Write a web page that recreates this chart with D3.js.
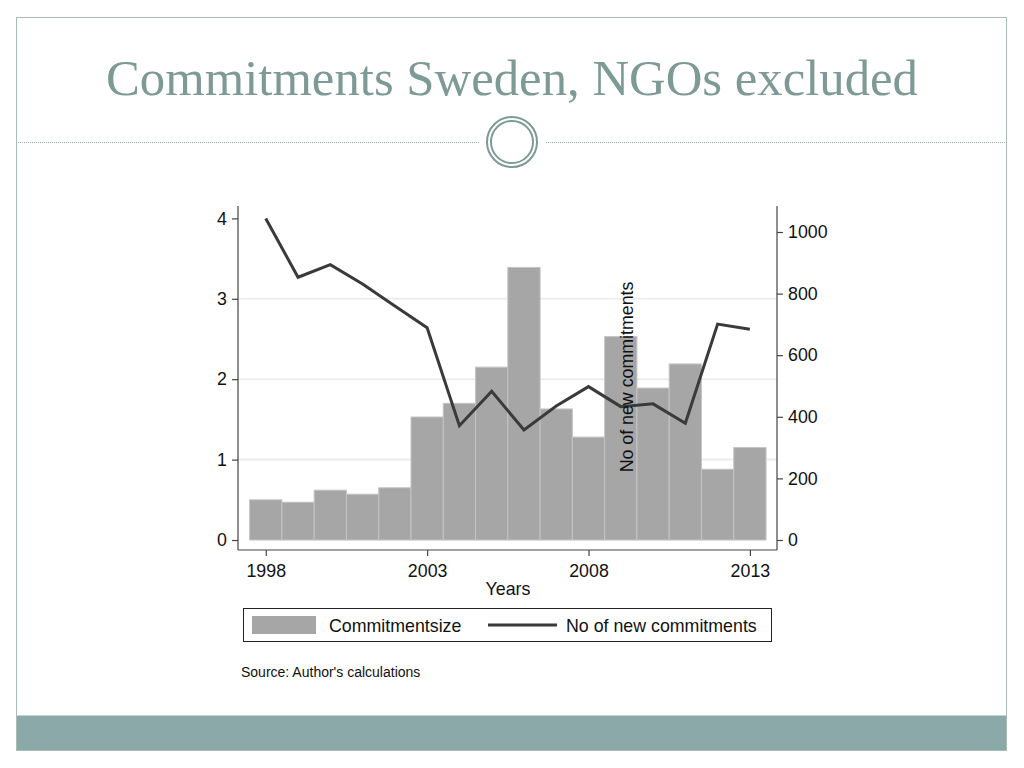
<!DOCTYPE html>
<html><head><meta charset="utf-8">
<script src="https://cdn.jsdelivr.net/npm/d3@7"></script>
<style>html,body{margin:0;padding:0;background:#fff;}svg{display:block;}</style>
</head><body>
<svg id="c" width="1024" height="768"></svg>
<script>
const years = [1998,1999,2000,2001,2002,2003,2004,2005,2006,2007,2008,2009,2010,2011,2012,2013];
const commitmentSize = [0.50,0.47,0.62,0.57,0.65,1.53,1.70,2.15,3.39,1.63,1.28,2.53,1.89,2.19,0.88,1.15];
const newCommitments = [1044,853,894,831,760,689,371,483,357,435,498,433,442,379,701,684];
const xTicks = [1998,2003,2008,2013];
const yLeftTicks = [0,1,2,3,4];
const yRightTicks = [0,200,400,600,800,1000];
const titleText = "Commitments Sweden, NGOs excluded";

const svg = d3.select("#c");
const teal = "#7d9a95";
const sans = "'Liberation Sans', Arial, sans-serif";
const fs = 17.8;

// slide frame
svg.append("rect").attr("x",16.5).attr("y",17.5).attr("width",990).attr("height",733)
  .attr("fill","#fff").attr("stroke","#a9bcb8").attr("stroke-width",1);
svg.append("rect").attr("x",17).attr("y",715).attr("width",989).attr("height",35).attr("fill","#8aa9a8");
svg.append("line").attr("x1",17).attr("x2",1006).attr("y1",715.5).attr("y2",715.5).attr("stroke","#c5d3d1");

// title
svg.append("text").attr("x",512).attr("y",95).attr("text-anchor","middle")
  .attr("font-family","Georgia, 'Liberation Serif', 'DejaVu Serif', serif").attr("font-size",51)
  .attr("fill",teal).attr("textLength",812).attr("lengthAdjust","spacingAndGlyphs").text(titleText);

// divider
[[16,479],[546,1006]].forEach(([a,b])=>{
  svg.append("line").attr("x1",a).attr("x2",b).attr("y1",142.5).attr("y2",142.5)
    .attr("stroke","#9aa9a6").attr("stroke-width",1).attr("stroke-dasharray","1,1");
});
svg.append("circle").attr("cx",512).attr("cy",142).attr("r",25).attr("fill","#fff").attr("stroke",teal).attr("stroke-width",2);
svg.append("circle").attr("cx",512).attr("cy",142).attr("r",21).attr("fill","none").attr("stroke",teal).attr("stroke-width",2);

// scales
const x = d3.scaleLinear().domain([1997.14,2013.84]).range([238,777]);
const yL = d3.scaleLinear().domain([-0.124,4.154]).range([550,206]);
const yR = d3.scaleLinear().domain([-32.5,1084.4]).range([550,206]);
const bw = x(1999)-x(1998);

// gridlines
svg.append("g").selectAll("line").data([1,2,3]).join("line")
  .attr("x1",238).attr("x2",777).attr("y1",d=>yL(d)).attr("y2",d=>yL(d))
  .attr("stroke","#eceeee").attr("stroke-width",2);

// bars
svg.append("g").selectAll("rect").data(years).join("rect")
  .attr("x",(d)=>x(d)-bw/2).attr("width",bw)
  .attr("y",(d,i)=>yL(commitmentSize[i])).attr("height",(d,i)=>yL(0)-yL(commitmentSize[i]))
  .attr("fill","#a6a6a6").attr("stroke","#c4c4c4").attr("stroke-width",1);

// line
svg.append("path").datum(years)
  .attr("d",d3.line().x(d=>x(d)).y((d,i)=>yR(newCommitments[i])))
  .attr("fill","none").attr("stroke","#3a3a3a").attr("stroke-width",3).attr("stroke-linejoin","miter");

// axes
function styleAxis(g){
  g.select(".domain").remove();
  g.selectAll(".tick line").attr("stroke","#444").attr("stroke-width",1.2);
  g.selectAll("text").attr("font-family",sans).attr("font-size",fs).attr("fill","#111");
}
svg.append("g").attr("transform","translate(0,550)")
  .call(d3.axisBottom(x).tickValues(xTicks).tickFormat(d3.format("d")).tickSize(6).tickPadding(8))
  .call(styleAxis);
svg.append("g").attr("transform","translate(238,0)")
  .call(d3.axisLeft(yL).tickValues(yLeftTicks).tickFormat(d3.format("d")).tickSize(6).tickPadding(5))
  .call(styleAxis);
svg.append("g").attr("transform","translate(777,0)")
  .call(d3.axisRight(yR).tickValues(yRightTicks).tickFormat(d3.format("d")).tickSize(6).tickPadding(5))
  .call(styleAxis);
// axis lines
const axisLines = [[238,206,238,550],[777,206,777,550],[238,550,777,550]];
svg.append("g").selectAll("line").data(axisLines).join("line")
  .attr("x1",d=>d[0]).attr("y1",d=>d[1]).attr("x2",d=>d[2]).attr("y2",d=>d[3])
  .attr("stroke","#444").attr("stroke-width",1.2);

// axis titles
svg.append("text").attr("x",508).attr("y",595).attr("text-anchor","middle")
  .attr("font-family",sans).attr("font-size",fs).attr("fill","#111").text("Years");
svg.append("text").attr("transform","translate(633,377) rotate(-90)").attr("text-anchor","middle")
  .attr("font-family",sans).attr("font-size",fs).attr("fill","#111").text("No of new commitments");

// legend
svg.append("rect").attr("x",243.5).attr("y",608.5).attr("width",528).attr("height",33)
  .attr("fill","#fff").attr("stroke","#222").attr("stroke-width",1);
svg.append("rect").attr("x",252).attr("y",616).attr("width",64).attr("height",18).attr("fill","#a6a6a6");
svg.append("text").attr("x",329).attr("y",632).attr("font-family",sans).attr("font-size",fs).attr("fill","#111").text("Commitmentsize");
svg.append("line").attr("x1",488).attr("x2",557).attr("y1",625).attr("y2",625).attr("stroke","#3a3a3a").attr("stroke-width",3);
svg.append("text").attr("x",566).attr("y",632).attr("font-family",sans).attr("font-size",fs).attr("fill","#111").text("No of new commitments");

// source
svg.append("text").attr("x",241).attr("y",677).attr("font-family",sans).attr("font-size",14).attr("fill","#111").text("Source: Author's calculations");
</script>
</body></html>
